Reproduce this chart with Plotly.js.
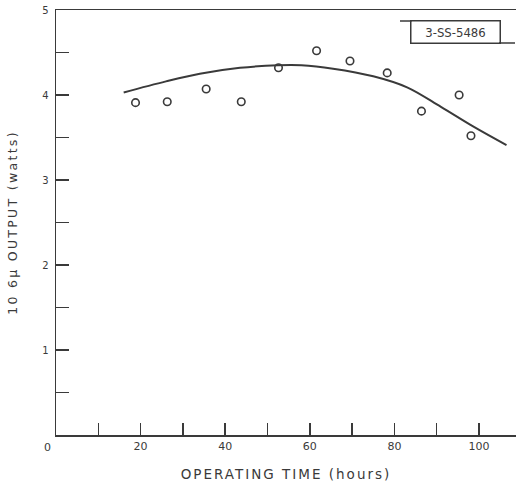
<!DOCTYPE html>
<html>
<head>
<meta charset="utf-8">
<script src="https://cdn.plot.ly/plotly-3.0.1.min.js"></script>
<style>
html,body{margin:0;padding:0;background:#fff;}
#chart{width:516px;height:484px;}
#chart .g-xtitle text{letter-spacing:2px;}
#chart .g-ytitle text{letter-spacing:2.3px;}
</style>
</head>
<body>
<div id="chart"></div>
<script>
// measured points
const hours = [18.8, 26.3, 35.5, 43.8, 52.6, 61.6, 69.5, 78.3, 86.4, 95.3, 98.1];
const outputW = [3.91, 3.92, 4.07, 3.92, 4.32, 4.52, 4.40, 4.26, 3.81, 4.00, 3.52];
// drawn fit curve
const fitHours = [16, 26, 34, 43.5, 52.5, 58, 65.5, 75, 83, 91, 98.6, 106.5];
const fitW = [4.03, 4.16, 4.25, 4.32, 4.35, 4.35, 4.31, 4.22, 4.09, 3.86, 3.63, 3.41];
const xTickVals = [0, 10, 20, 30, 40, 50, 60, 70, 80, 90, 100];
const xTickText = ["", "", "20", "", "40", "", "60", "", "80", "", "100"];
const yTickVals = [0, 0.5, 1, 1.5, 2, 2.5, 3, 3.5, 4, 4.5, 5];
const yTickText = ["", "", "1", "", "2", "", "3", "", "4", "", "5"];
const tag = "3-SS-5486";

const ink = '#3a3a3a';
const L = 56, R = 516, T = 10, B = 435;
const px = v => (v - L) / (R - L);
const py = v => (B - v) / (B - T);

const data = [
  {x: fitHours, y: fitW, mode: 'lines', line: {color: ink, width: 2, shape: 'spline', smoothing: 1}, hoverinfo: 'skip'},
  {x: hours, y: outputW, mode: 'markers', marker: {symbol: 'circle-open', size: 7.5, color: ink, line: {width: 1.6, color: ink}}}
];

const layout = {
  width: 516, height: 484,
  margin: {l: L, r: 516 - R, t: T, b: 484 - B},
  paper_bgcolor: '#fff', plot_bgcolor: '#fff',
  showlegend: false,
  font: {family: 'DejaVu Sans, sans-serif', color: ink, size: 11},
  xaxis: {
    range: [0, (R - L) / 4.23], showgrid: false, zeroline: false,
    showline: true, mirror: true, linecolor: ink, linewidth: 1.5,
    ticks: 'inside', ticklen: 12, tickwidth: 1.5, tickcolor: ink,
    tickvals: xTickVals, ticktext: xTickText,
    tickfont: {size: 11, family: 'DejaVu Sans, sans-serif', color: ink},
    title: {text: 'OPERATING TIME (hours)', font: {size: 13.5, family: 'DejaVu Sans, sans-serif', color: ink}, standoff: 18}
  },
  yaxis: {
    range: [0, 5], showgrid: false, zeroline: false,
    showline: true, linecolor: ink, linewidth: 1.5,
    ticks: 'inside', ticklen: 13, tickwidth: 1.5, tickcolor: ink,
    tickvals: yTickVals, ticktext: yTickText, ticklabelstandoff: 4,
    tickfont: {size: 10, family: 'DejaVu Sans, sans-serif', color: ink},
    title: {text: '10 6μ OUTPUT (watts)', font: {size: 12.5, family: 'DejaVu Sans, sans-serif', color: ink}, standoff: 22}
  },
  shapes: [
    {type: 'line', xref: 'paper', yref: 'paper', x0: px(400), x1: px(411.5), y0: py(21), y1: py(21), line: {color: ink, width: 1.5}},
    {type: 'line', xref: 'paper', yref: 'paper', x0: px(499), x1: px(515), y0: py(43), y1: py(43), line: {color: ink, width: 1.5}}
  ],
  annotations: [
    {xref: 'paper', yref: 'paper', x: px(455), y: py(32), xanchor: 'center', yanchor: 'middle', text: tag, showarrow: false,
     font: {size: 13, family: 'DejaVu Sans Condensed, DejaVu Sans, sans-serif', color: ink},
     bordercolor: ink, borderwidth: 1.5, borderpad: 2, width: 84, height: 17},
    {xref: 'paper', yref: 'paper', x: px(47), y: py(447), xanchor: 'center', yanchor: 'middle', text: '0', showarrow: false,
     font: {size: 11, family: 'DejaVu Sans, sans-serif', color: ink}}
  ]
};

Plotly.newPlot('chart', data, layout, {displayModeBar: false, staticPlot: true});
</script>
</body>
</html>
